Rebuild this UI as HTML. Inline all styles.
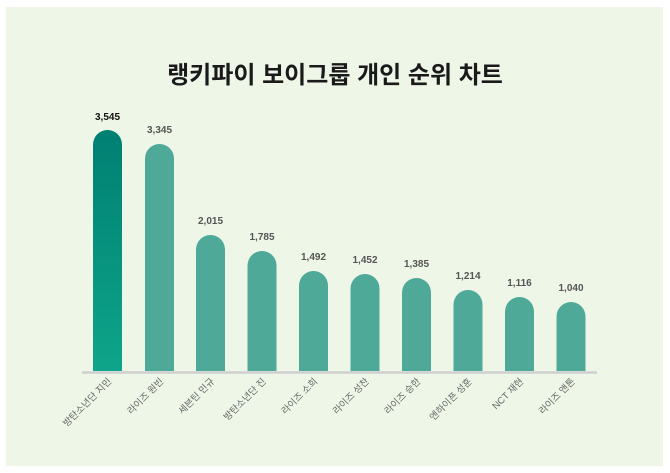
<!DOCTYPE html>
<html><head><meta charset="utf-8"><style>
html,body{margin:0;padding:0;background:#fff;}
body{width:670px;height:473px;position:relative;overflow:hidden;}
</style></head><body>
<svg width="670" height="473" xmlns="http://www.w3.org/2000/svg" style="position:absolute;left:0;top:0">
<defs>
<linearGradient id="g1" x1="0" y1="0" x2="0" y2="1">
<stop offset="0" stop-color="#007f72"/><stop offset="1" stop-color="#0ea58a"/>
</linearGradient>
</defs>
<rect x="6" y="7" width="657" height="459" fill="#eef6e8"/>
<text x="335" y="83" text-anchor="middle" font-family="Liberation Sans, Noto Sans CJK KR, sans-serif" font-size="24" font-weight="bold" fill="#1a1a1a">랭키파이 보이그룹 개인 순위 차트</text>
<g font-family="Liberation Sans, Noto Sans CJK KR, sans-serif">
<script type="text/javascript"></script>
</g>
<g id="bars"></g>
<line x1="82" y1="372.5" x2="597" y2="372.5" stroke="#cfcfcf" stroke-width="2.5"/>
</svg>
<svg width="670" height="473" xmlns="http://www.w3.org/2000/svg" style="position:absolute;left:0;top:0" font-family="Liberation Sans, Noto Sans CJK KR, sans-serif">
<!-- bars -->
<path d="M93,371 V144.5 A14.5,14.5 0 0 1 122,144.5 V371 Z" fill="url(#g1)"/>
<path d="M145,371 V158.5 A14.5,14.5 0 0 1 174,158.5 V371 Z" fill="#4ea998"/>
<path d="M196,371 V249.5 A14.5,14.5 0 0 1 225,249.5 V371 Z" fill="#4ea998"/>
<path d="M247.5,371 V265.5 A14.5,14.5 0 0 1 276.5,265.5 V371 Z" fill="#4ea998"/>
<path d="M299,371 V285.5 A14.5,14.5 0 0 1 328,285.5 V371 Z" fill="#4ea998"/>
<path d="M350.5,371 V288.5 A14.5,14.5 0 0 1 379.5,288.5 V371 Z" fill="#4ea998"/>
<path d="M402,371 V292.5 A14.5,14.5 0 0 1 431,292.5 V371 Z" fill="#4ea998"/>
<path d="M453.5,371 V304.5 A14.5,14.5 0 0 1 482.5,304.5 V371 Z" fill="#4ea998"/>
<path d="M505,371 V311.5 A14.5,14.5 0 0 1 534,311.5 V371 Z" fill="#4ea998"/>
<path d="M556.5,371 V316.5 A14.5,14.5 0 0 1 585.5,316.5 V371 Z" fill="#4ea998"/>
<g font-size="10" font-weight="bold" text-anchor="middle" fill="#555">
<text x="107.5" y="120" fill="#111">3,545</text>
<text x="159.5" y="133">3,345</text>
<text x="210.5" y="224">2,015</text>
<text x="262" y="240">1,785</text>
<text x="313.5" y="260">1,492</text>
<text x="365" y="263">1,452</text>
<text x="416.5" y="267">1,385</text>
<text x="468" y="279">1,214</text>
<text x="519.5" y="286">1,116</text>
<text x="571" y="291">1,040</text>
</g>
<g font-size="9.5" fill="#666" text-anchor="end">
<text transform="translate(112,382) rotate(-45)">방탄소년단 지민</text>
<text transform="translate(164,382) rotate(-45)">라이즈 원빈</text>
<text transform="translate(215,382) rotate(-45)">세븐틴 민규</text>
<text transform="translate(266.5,382) rotate(-45)">방탄소년단 진</text>
<text transform="translate(318,382) rotate(-45)">라이즈 소희</text>
<text transform="translate(369.5,382) rotate(-45)">라이즈 성찬</text>
<text transform="translate(421,382) rotate(-45)">라이즈 승한</text>
<text transform="translate(472.5,382) rotate(-45)">엔하이픈 성훈</text>
<text transform="translate(524,382) rotate(-45)">NCT 재현</text>
<text transform="translate(575.5,382) rotate(-45)">라이즈 앤톤</text>
</g>
</svg>
</body></html>
